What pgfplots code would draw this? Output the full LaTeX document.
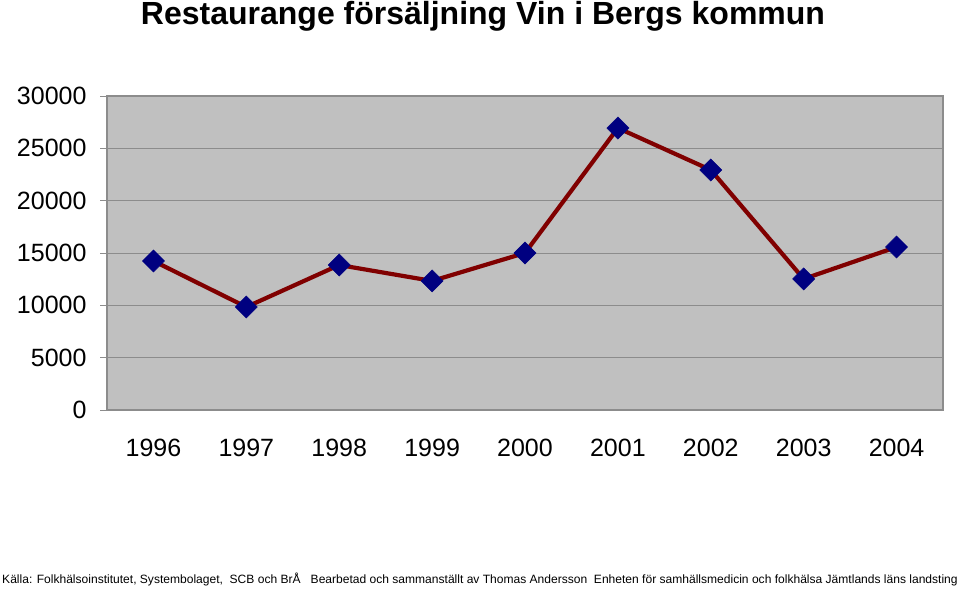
\documentclass[border=0pt]{standalone}
\usepackage{pgfplots}
\pgfplotsset{compat=1.18}
\usepackage{fontspec}
\setmainfont{Liberation Sans}
\definecolor{bgc}{HTML}{C0C0C0}
\definecolor{gridc}{HTML}{8C8C8C}
\definecolor{linec}{HTML}{800000}
\definecolor{markc}{HTML}{000080}
\begin{document}
\begin{tikzpicture}[x=1bp,y=1bp]
\useasboundingbox (0,0) rectangle (960,590);
\node[font=\fontsize{32bp}{36bp}\selectfont\bfseries] at (483,574) {Restaurange försäljning Vin i Bergs kommun};
\begin{axis}[
  at={(107bp,180bp)}, anchor=south west,
  scale only axis, width=836bp, height=314bp,
  xmin=-0.5, xmax=8.5, ymin=0, ymax=30000,
  axis background/.style={fill=bgc},
  axis line style={gridc, line width=1.2bp},
  xtick={0,...,8},
  xticklabels={1996,1997,1998,1999,2000,2001,2002,2003,2004},
  x tick style={draw=none},
  extra x ticks={-0.5,0.5,1.5,2.5,3.5,4.5,5.5,6.5,7.5,8.5},
  extra x tick labels={},
  extra x tick style={tick style={draw=gridc, line width=0.8bp}, major tick length=7bp, xtick pos=bottom, tick align=outside, grid=none},
  ytick={0,5000,...,30000},
  ytick pos=left, tick align=outside,
  y tick style={draw=gridc, line width=0.8bp},
  major tick length=7bp,
  ymajorgrids, major grid style={gridc, line width=0.8bp},
  tick label style={font=\fontsize{25bp}{28bp}\selectfont},
  /pgf/number format/assume math mode=true,
  /pgf/number format/set thousands separator={},
  scaled y ticks=false,
  yticklabel style={xshift=-10bp},
  xticklabel style={yshift=-19bp},
]
\addplot[linec, line width=4.2bp, mark=square*, mark size=7.8bp,
  mark options={rotate=45, fill=markc, draw=markc, line width=0.5bp}]
  coordinates {(0,14240) (1,9840) (2,13850) (3,12330) (4,15000) (5,26940) (6,22930) (7,12520) (8,15570)};
\end{axis}
\node[font=\fontsize{12.05bp}{14bp}\selectfont] at (480,11) {Källa: Folkhälsoinstitutet, Systembolaget,\ \ SCB och BrÅ\ \ \ Bearbetad och sammanställt av Thomas Andersson\ \ Enheten för samhällsmedicin och folkhälsa Jämtlands läns landsting};
\end{tikzpicture}
\end{document}
